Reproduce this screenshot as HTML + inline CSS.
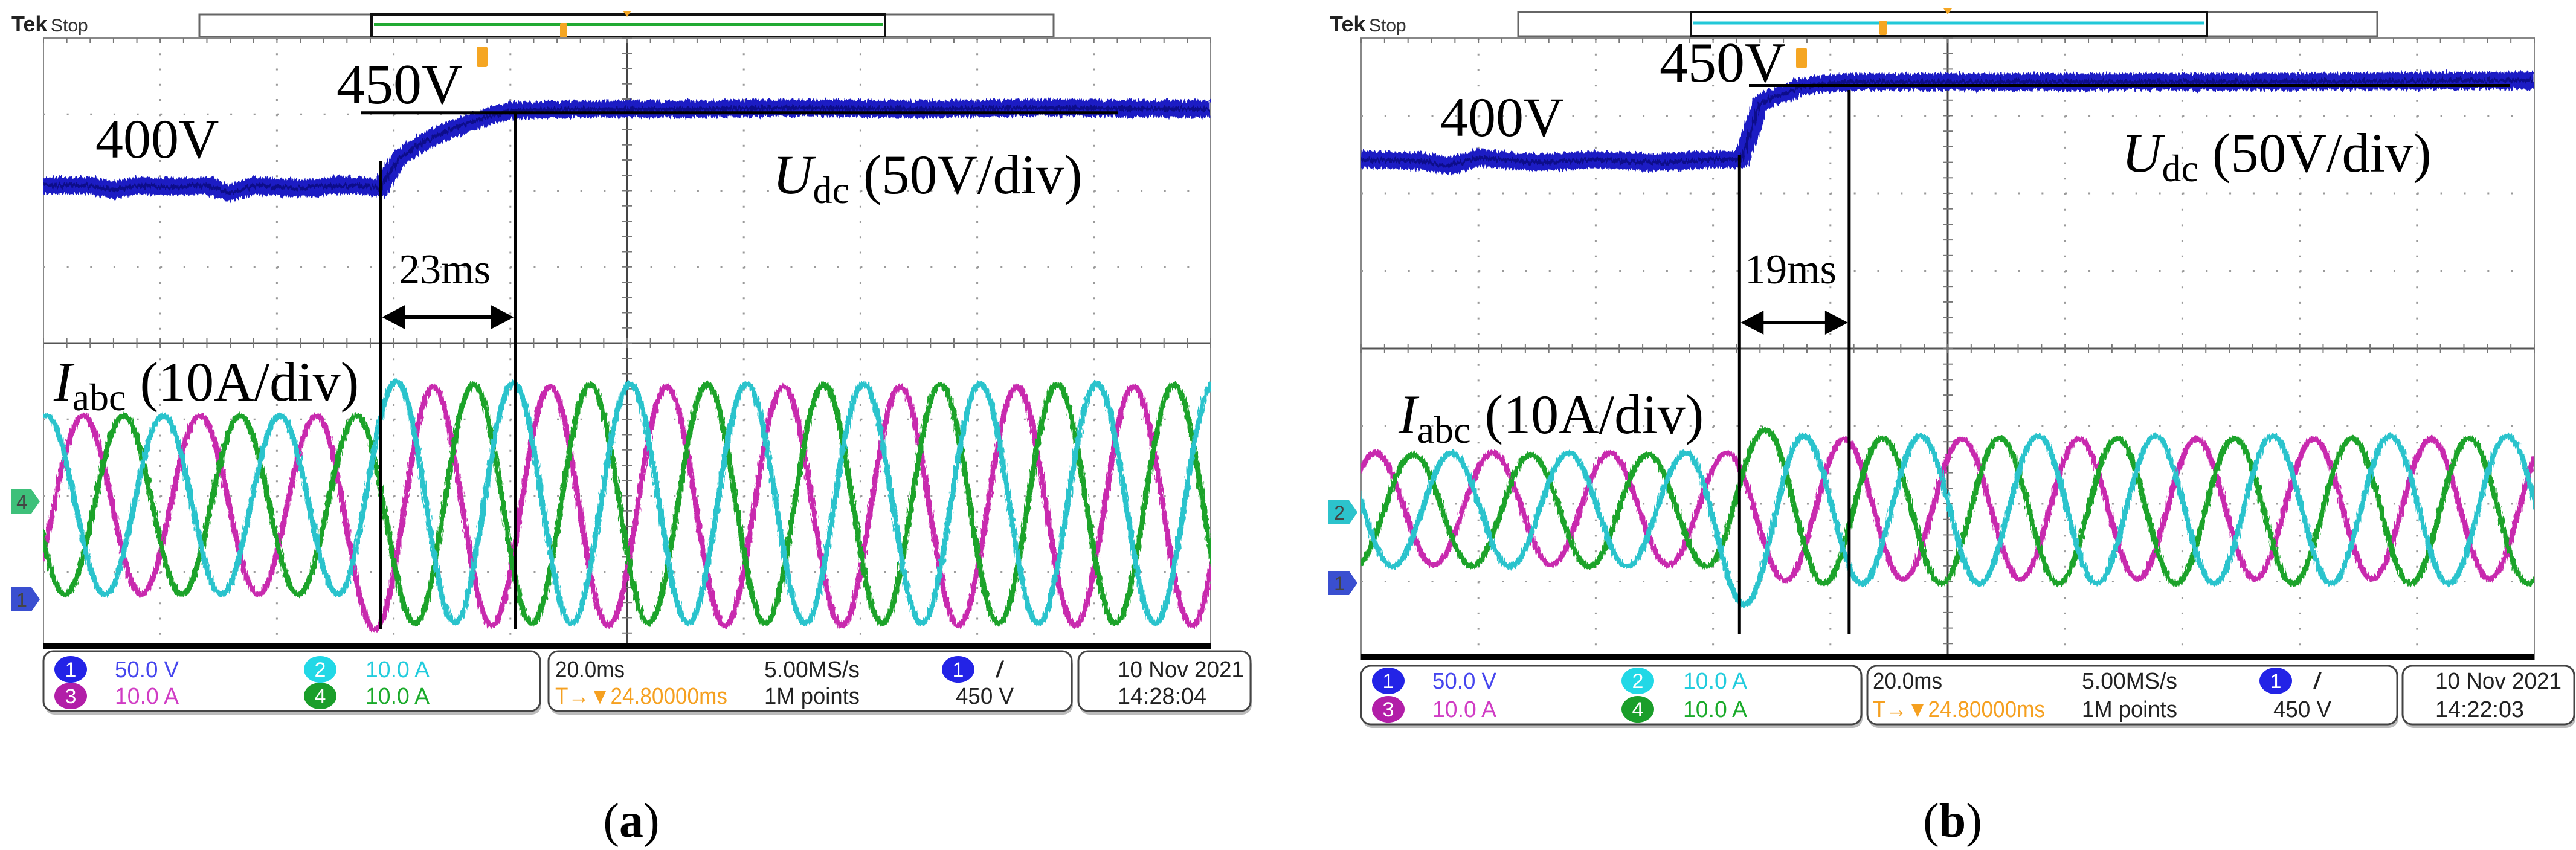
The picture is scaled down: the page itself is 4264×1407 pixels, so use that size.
<!DOCTYPE html>
<html><head><meta charset="utf-8"><title>Udc step response</title>
<style>html,body{margin:0;padding:0;background:#fff}svg{display:block}</style></head>
<body>
<svg id="fig" xmlns="http://www.w3.org/2000/svg" width="4264" height="1407" viewBox="0 0 4264 1407">
<defs>
<filter id="noisy" x="-5%" y="-20%" width="110%" height="140%">
<feTurbulence type="fractalNoise" baseFrequency="0.35 0.05" numOctaves="2" seed="3" result="n"/>
<feDisplacementMap in="SourceGraphic" in2="n" scale="14" xChannelSelector="R" yChannelSelector="G"/>
</filter>
<filter id="noisy2" x="-5%" y="-20%" width="110%" height="140%">
<feTurbulence type="fractalNoise" baseFrequency="0.4 0.08" numOctaves="2" seed="7" result="n"/>
<feDisplacementMap in="SourceGraphic" in2="n" scale="9" xChannelSelector="R" yChannelSelector="G"/>
</filter>
</defs>
<rect x="0" y="0" width="4264" height="1407" fill="#fff"/>
</svg>
<script>
// ---------- data ----------
const udcTimesA=[0,8,12,16,22,28,32,36,44,50,54,57.8,58.6,61,64,67,70,73,76,80,90,110,130,150,170,200];
const udcValsA=[400,400,397,400,399,400,395,400,398,400,400,398,404,418,426,432,437,441,445,449,450,450,451,450,451,450];
const udcTimesB=[0,10,15,20,30,40,50,60,64.8,66,68,70,72,75,80,83,100,150,200];
const udcValsB=[400,399,396,401,398,400,398,400,400,413,436,440,442,447,449,450,450,450,451];
const halfPeriod=10;
const cyanStartA=-9.5;
const cyanPeaksA=[-11.7,11.7,-11.7,11.7,-11.7,11.7,-11.7,16.2,-15.4,16.0,-15.5,15.9,-15.5,15.9,-15.5,15.9,-15.5,15.9,-15.5,15.9,-15.5,15.9];
const magentaStartA=-3.2;
const magentaPeaksA=[-11.7,11.7,-11.7,11.7,-11.7,11.7,-16.3,15.5,-15.8,15.5,-15.8,15.5,-15.8,15.5,-15.8,15.5,-15.8,15.5,-15.8,15.5,-15.8,15.5];
const greenStartA=-6.3;
const greenPeaksA=[11.7,-11.7,11.7,-11.7,11.7,-11.7,11.7,-15.5,15.8,-15.5,15.8,-15.5,15.8,-15.5,15.8,-15.5,15.8,-15.5,15.8,-15.5,15.8,-15.5];
const magentaStartB=-7.6;
const magentaPeaksB=[-7.0,7.4,-7.0,7.4,-7.0,7.4,-7.0,7.4,-9.0,9.2,-8.8,9.2,-8.8,9.2,-8.8,9.2,-8.8,9.2,-8.8,9.2,-8.8,9.2];
const greenStartB=-1.1;
const greenPeaksB=[-7.2,7.2,-7.2,7.2,-7.2,7.2,-7.2,10.4,-9.4,9.3,-9.4,9.3,-9.4,9.3,-9.4,9.3,-9.4,9.3,-9.4,9.3,-9.4,9.3];
const cyanStartB=-4.6;
const cyanPeaksB=[7.4,-7.2,7.4,-7.2,7.4,-7.2,7.4,-12.1,9.6,-9.4,9.6,-9.4,9.6,-9.4,9.6,-9.4,9.6,-9.4,9.6,-9.4,9.6,-9.4];
const stepTimeA=57.8, settleTimeA=80.8, labelA="23ms";
const stepTimeB=64.5, settleTimeB=83.2, labelB="19ms";

// ---------- rendering ----------
const NS="http://www.w3.org/2000/svg";
const svg=document.getElementById('fig');
function el(tag,attrs,parent){const e=document.createElementNS(NS,tag);for(const k in attrs)e.setAttribute(k,attrs[k]);(parent||svg).appendChild(e);return e;}
function txt(s,attrs,parent){const e=el('text',attrs,parent);e.textContent=s;return e;}

const panels=[
 {id:'a',L:72,R:2004,T:63,B:1073,udcT:udcTimesA,udcV:udcValsA,v400:307,z:836,step:stepTimeA,settle:settleTimeA,lab:labelA,
  cur:[[magentaStartA,magentaPeaksA,'#c82aae','magenta'],[greenStartA,greenPeaksA,'#1fa32a','green'],[cyanStartA,cyanPeaksA,'#2cc3cc','cyan']],
  bar:{x1:330,x2:1744,y1:24,y2:61,i1:615,i2:1465,col:'#22aa33',tm:933},
  hl:{x1:598,x2:1850},v1top:266,v2top:189,vbot:1041,arrowY:525,
  t450:[557,171],t400:[158,261],tudc:[1279,320],tiabc:[89,663],tms:[736,469],tT:[798,99],
  markers:[[830,'#3ec07a','4'],[992,'#3a4fd0','1']],mx:18,
  box:{y1:1078,y2:1177,r1:1108,r2:1152,dx:0,b1:[72,894],b2:[908,1774],b3:[1785,2070]},
  time:'14:28:04',cap:[1045,1385]},
 {id:'b',L:2253,R:4195,T:63,B:1091,udcT:udcTimesB,udcV:udcValsB,v400:264,z:845,step:stepTimeB,settle:settleTimeB,lab:labelB,
  cur:[[magentaStartB,magentaPeaksB,'#c82aae','magenta'],[greenStartB,greenPeaksB,'#1fa32a','green'],[cyanStartB,cyanPeaksB,'#2cc3cc','cyan']],
  bar:{x1:2513,x2:3935,y1:20,y2:60,i1:2799,i2:3653,col:'#22c8d8',tm:3117},
  hl:{x1:2895,x2:4154},v1top:257,v2top:149,vbot:1049,arrowY:534,
  t450:[2747,135],t400:[2384,225],tudc:[3512,284],tiabc:[2315,717],tms:[2964,469],tT:[2982,101],
  markers:[[848,'#2cc3cc','2'],[965,'#3a4fd0','1']],mx:2199,
  box:{y1:1102,y2:1199,r1:1127,r2:1174,dx:2181,b1:[2253,3081],b2:[3091,3968],b3:[3977,4261]},
  time:'14:22:03',cap:[3232,1385]}
];

panels.forEach(P=>{
 const g=el('g',{});
 
 
 const W=P.R-P.L,H=P.B-P.T,dx=W/10,dy=H/8;
 const xT=t=>P.L+t/200*W;
 const yV=v=>P.v400-(v-400)*dy/50;
 const yI=a=>P.z-a*dy/10;
 const tk=txt('Tek',{x:P.id==='a'?19:2201,y:52,'font-family':'Liberation Sans, sans-serif','font-size':36,'font-weight':'bold',fill:'#222'},g);
 
 const st=txt('Stop',{x:P.id==='a'?84:2266,y:52,'font-family':'Liberation Sans, sans-serif','font-size':30,fill:'#333'},g);
 
 const b=P.bar;
 const rb=el('rect',{x:b.x1,y:b.y1,width:b.x2-b.x1,height:b.y2-b.y1,fill:'#fff',stroke:'#666','stroke-width':3},g);
 
 el('rect',{x:b.i1,y:b.y1,width:b.i2-b.i1,height:b.y2-b.y1,fill:'none',stroke:'#111','stroke-width':4},g);
 el('line',{x1:b.i1+4,x2:b.i2-4,y1:(b.y1+b.y2)/2-2,y2:(b.y1+b.y2)/2-2,stroke:b.col,'stroke-width':5},g);
 el('rect',{x:b.tm-6,y:b.y1+14,width:12,height:24,fill:'#f5a623',rx:2},g);
 const cx=(P.L+P.R)/2;
 el('polygon',{points:`${cx-7},${b.y1-6} ${cx+7},${b.y1-6} ${cx},${b.y1+4}`,fill:'#f5a623'},g);
 const trg=el('polygon',{points:`${cx-12},${P.T+2} ${cx+12},${P.T+2} ${cx},${P.T+20}`,fill:'#f5a623'},g);
 
 const pl=el('rect',{x:P.L,y:P.T,width:W,height:H,fill:'#fff',stroke:'#888','stroke-width':2},g);
 
 const grid=el('g',{stroke:'#9a9a9a','stroke-width':3,'stroke-dasharray':`3 ${dx/5-3}`},g);
 
 for(let i=1;i<10;i++){if(i===5)continue;el('line',{x1:P.L+i*dx,x2:P.L+i*dx,y1:P.T,y2:P.B,'stroke-dasharray':`3 ${dy/5-3}`},grid);}
 for(let j=1;j<8;j++){if(j===4)continue;el('line',{x1:P.L,x2:P.R,y1:P.T+j*dy,y2:P.T+j*dy},grid);}
 el('line',{x1:cx,x2:cx,y1:P.T,y2:P.B,stroke:'#444','stroke-width':3},g);
 const cy=P.T+4*dy;
 el('line',{x1:P.L,x2:P.R,y1:cy,y2:cy,stroke:'#555','stroke-width':3},g);
 for(let k=0;k<=50;k++){const x=P.L+k*dx/5;el('line',{x1:x,x2:x,y1:cy-8,y2:cy+8,stroke:'#777','stroke-width':2},g);
   el('line',{x1:x,x2:x,y1:P.T,y2:P.T+8,stroke:'#777','stroke-width':2},g);}
 for(let k=0;k<=40;k++){const y=P.T+k*dy/5;el('line',{x1:cx-8,x2:cx+8,y1:y,y2:y,stroke:'#777','stroke-width':2},g);}
 const bb=el('rect',{x:P.L,y:P.B-8,width:W,height:10,fill:'#000'},g);
 
 const cp=el('clipPath',{id:'clip'+P.id},g);el('rect',{x:P.L,y:P.T,width:W,height:H},cp);
 const plotG=el('g',{'clip-path':`url(#clip${P.id})`},g);
 P.cur.forEach(([start,vals,col,name])=>{
   let d='';
   const h=halfPeriod*W/200*0.3642;
   vals.forEach((v,k)=>{const x=xT(start+k*halfPeriod),y=yI(v);
     if(k===0)d+=`M${x.toFixed(1)},${y.toFixed(1)}`;
     else{const px=xT(start+(k-1)*halfPeriod),py=yI(vals[k-1]);
       d+=` C${(px+h).toFixed(1)},${py.toFixed(1)} ${(x-h).toFixed(1)},${y.toFixed(1)} ${x.toFixed(1)},${y.toFixed(1)}`;}
   });
   const p=el('path',{d:d,fill:'none',stroke:col,'stroke-width':9,'stroke-linejoin':'round',filter:'url(#noisy2)'},plotG);
   
   
 });
 const pts=P.udcT.map((t,i)=>`${xT(t).toFixed(1)},${yV(P.udcV[i]).toFixed(1)}`).join(' ');
 const ug=el('g',{filter:'url(#noisy)'},plotG);
 const u=el('polyline',{points:pts,fill:'none',stroke:'#1c1cc4','stroke-width':28,'stroke-linejoin':'round'},ug);
 
 
 el('polyline',{points:pts,fill:'none',stroke:'#10108a','stroke-width':6,'stroke-linejoin':'round'},ug);
 const an=el('g',{stroke:'#000','stroke-width':5},g);
 
 const x1=xT(P.step),x2=xT(P.settle);
 el('line',{x1:P.hl.x1,x2:P.hl.x2,y1:yV(450)+6,y2:yV(450)+6},an);
 el('line',{x1:x1,x2:x1,y1:P.v1top,y2:P.vbot},an);
 el('line',{x1:x2,x2:x2,y1:P.v2top,y2:P.vbot},an);
 el('line',{x1:x1+30,x2:x2-30,y1:P.arrowY,y2:P.arrowY,'stroke-width':6},an);
 el('polygon',{points:`${x1+2},${P.arrowY} ${x1+40},${P.arrowY-20} ${x1+40},${P.arrowY+20}`,fill:'#000',stroke:'none'},an);
 el('polygon',{points:`${x2-2},${P.arrowY} ${x2-40},${P.arrowY-20} ${x2-40},${P.arrowY+20}`,fill:'#000',stroke:'none'},an);
 const serif={'font-family':'Liberation Serif, serif',fill:'#000'};
 const t1=txt('450V',Object.assign({x:P.t450[0],y:P.t450[1],'font-size':94},serif),g);
 
 el('rect',{x:P.tT[0]-9,y:P.tT[1]-22,width:18,height:34,fill:'#f5a623',rx:3},g);
 const t2=txt('400V',Object.assign({x:P.t400[0],y:P.t400[1],'font-size':92},serif),g);
 
 const t3=el('text',Object.assign({x:P.tudc[0],y:P.tudc[1],'font-size':92},serif),g);
 t3.innerHTML='<tspan font-style="italic">U</tspan><tspan font-size="64" dy="16">dc</tspan><tspan dy="-16"> (50V/div)</tspan>';
 
 const t4=el('text',Object.assign({x:P.tiabc[0],y:P.tiabc[1],'font-size':92},serif),g);
 t4.innerHTML='<tspan font-style="italic">I</tspan><tspan font-size="64" dy="16">abc</tspan><tspan dy="-16"> (10A/div)</tspan>';
 
 const t5=txt(P.lab,Object.assign({x:P.tms[0],y:P.tms[1],'font-size':70,'text-anchor':'middle'},serif),g);
 
 P.markers.forEach(([y,col,n])=>{
   const m=el('polygon',{points:`${P.mx},${y-20} ${P.mx+34},${y-20} ${P.mx+48},${y} ${P.mx+34},${y+20} ${P.mx},${y+20}`,fill:col},g);
   
   
   txt(n,{x:P.mx+18,y:y+12,'font-family':'Liberation Sans, sans-serif','font-size':32,'text-anchor':'middle',fill:'#444'},g);
 });
 const B=P.box,sans='Liberation Sans, sans-serif';
 [B.b1,B.b2,B.b3].forEach((bx,i)=>{
   el('rect',{x:bx[0]+2,y:B.y1+6,width:bx[1]-bx[0],height:B.y2-B.y1,rx:16,fill:'#bbb'},g);
   const r=el('rect',{x:bx[0],y:B.y1,width:bx[1]-bx[0],height:B.y2-B.y1,rx:16,fill:'#fff',stroke:'#444','stroke-width':3},g);
   
   
 });
 const X=x=>x+B.dx;
 function badge(x,y,col,n){el('ellipse',{cx:X(x),cy:y,rx:27,ry:22,fill:col},g);txt(n,{x:X(x),y:y+12,'font-family':sans,'font-size':34,'text-anchor':'middle',fill:'#fff'},g);}
 function it(s,x,y,w,col){return txt(s,{x:X(x),y:y+13,'font-family':sans,'font-size':38,fill:col,textLength:w,lengthAdjust:'spacingAndGlyphs'},g);}
 badge(117,B.r1,'#2323e6','1');it('50.0 V',190,B.r1,106,'#4646ee');
 badge(530,B.r1,'#22d8e6','2');it('10.0 A',605,B.r1,106,'#22ccdd');
 badge(117,B.r2,'#b21ea8','3');it('10.0 A',190,B.r2,106,'#d03cc4');
 badge(530,B.r2,'#1a9e2a','4');it('10.0 A',605,B.r2,106,'#1aaa2a');
 it('20.0ms',919,B.r1,115,'#222');it('5.00MS/s',1265,B.r1,158,'#222');
 badge(1586,B.r1,'#2323e6','1');it('/',1648,B.r1,14,'#222');
 it('T→▼24.80000ms',919,B.r2,285,'#f5a020');it('1M points',1265,B.r2,158,'#222');it('450 V',1582,B.r2,96,'#222');
 it('10 Nov 2021',1850,B.r1,209,'#222');it(P.time,1850,B.r2,147,'#222');
 const c=el('text',{x:P.cap[0],y:P.cap[1],'font-family':'Liberation Serif, serif','font-size':80,'text-anchor':'middle',fill:'#000'},svg);
 c.innerHTML='(<tspan font-weight="bold">'+P.id+'</tspan>)';
 
 
});
</script>
</body></html>
